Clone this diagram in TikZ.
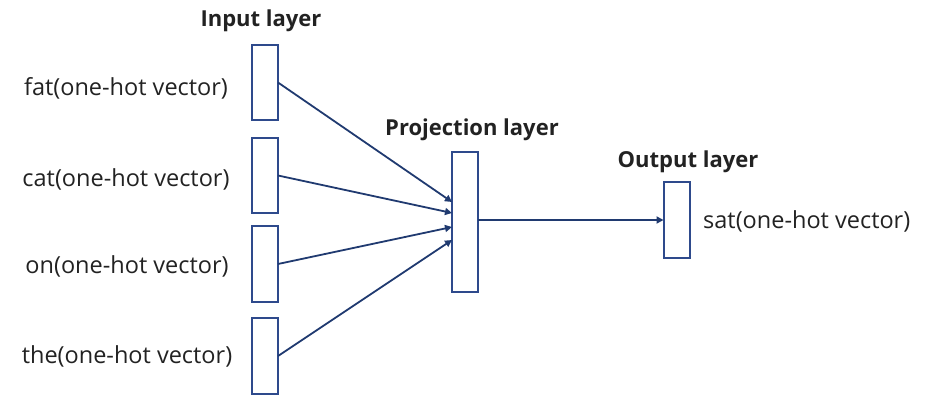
\documentclass[tikz,border=0pt]{standalone}
\usepackage{fontspec}
\setmainfont{Open Sans}
\usetikzlibrary{arrows.meta}
\definecolor{boxblue}{HTML}{2E4A8C}
\definecolor{lineblue}{HTML}{203A70}
\definecolor{txt}{HTML}{222222}
\begin{document}
\begin{tikzpicture}[x=1pt,y=-1pt,
  layerbox/.style={draw=boxblue,line width=2pt,fill=white,minimum width=26pt,inner sep=0pt,outer sep=0pt},
  wordlabel/.style={text=txt,font=\fontsize{23.5}{26}\selectfont,inner sep=0pt},
  layertitle/.style={text=txt,font=\fontsize{22}{24}\selectfont\bfseries,inner sep=0pt},
  conn/.style={draw=lineblue,line width=1.8pt,-{Triangle[length=7pt,width=7pt]}}]
\useasboundingbox (0,0) rectangle (926,420);
% input boxes
\node[layerbox,minimum height=75pt] (in1) at (265,82.5) {};
\node[layerbox,minimum height=75pt] (in2) at (265,175.5) {};
\node[layerbox,minimum height=76pt] (in3) at (265,264) {};
\node[layerbox,minimum height=76pt] (in4) at (265,356) {};
% projection box
\node[layerbox,minimum height=140pt] (proj) at (465,222) {};
% output box
\node[layerbox,minimum height=76pt] (out) at (676.5,220) {};
% labels
\node[wordlabel] (l1) at (126,88) {fat(one-hot vector)};
\node[wordlabel] (l2) at (126,179) {cat(one-hot vector)};
\node[wordlabel] (l3) at (127,266) {on(one-hot vector)};
\node[wordlabel] (l4) at (127,356) {the(one-hot vector)};
\node[wordlabel,anchor=west] (l5) at (703,221) {sat(one-hot vector)};
% titles
\node[layertitle] (t1) at (261,21) {Input layer};
\node[layertitle] (t2) at (472,130) {Projection layer};
\node[layertitle] (t3) at (688,162) {Output layer};
% connectors
\draw[conn] (in1.east) -- ([yshift=20pt]proj.west);
\draw[conn] (in2.east) -- ([yshift=9pt]proj.west);
\draw[conn] (in3.east) -- ([yshift=-5pt]proj.west);
\draw[conn] (in4.east) -- ([yshift=-18pt]proj.west);
\draw[conn] (proj.east |- out.west) -- (out.west);
\end{tikzpicture}
\end{document}
